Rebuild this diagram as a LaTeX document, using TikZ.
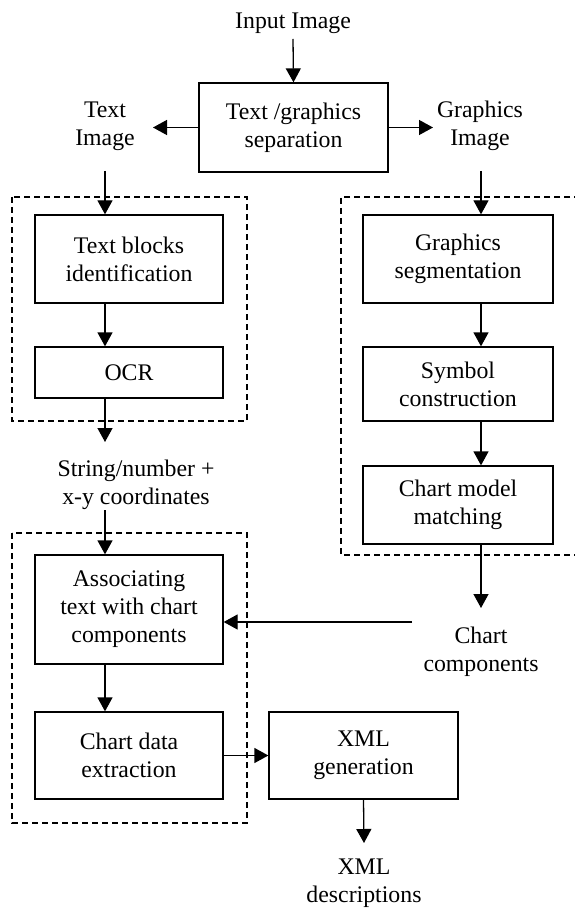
\documentclass[tikz,border=0pt]{standalone}
\usepackage{fontspec}
\setmainfont{Liberation Serif}
\usetikzlibrary{arrows.meta}
\newcommand\dgfont{\fontsize{23.8}{28}\selectfont}
\begin{document}
\begin{tikzpicture}[x=1pt,y=-1pt,
  box/.style={draw,line width=1.3pt,align=center,inner sep=0pt,font=\dgfont},
  lbl/.style={align=center,inner sep=0pt,font=\dgfont},
  arr/.style={line width=1.3pt,-{Triangle[length=14pt,width=15pt]}},
  grp/.style={line width=1.3pt,dash pattern=on 6pt off 4pt}]
\useasboundingbox (0,0) rectangle (574,909);
\fill[white] (0,0) rectangle (574,909);

% groups
\draw[grp] (12,197) rectangle (247,421);
\draw[grp] (12,533) rectangle (247,823);
\draw[grp] (590,197) -- (341,197) -- (341,555) -- (590,555);

% nodes
\node[lbl] (inp) at (293,23) {Input Image};
\node[box,minimum width=189pt,minimum height=89pt] (sep) at (293.5,127.5) {Text /graphics\\separation};
\node[lbl] (timg) at (105,126) {Text\\Image};
\node[lbl] (gimg) at (480,126) {Graphics\\Image};
\node[box,minimum width=188pt,minimum height=88pt] (tb) at (129,259) {Text blocks\\identification};
\node[box,minimum width=188pt,minimum height=51pt] (ocr) at (129,372.5) {OCR};
\node[lbl] (str) at (136,485) {String/number +\\x-y coordinates};
\node[box,minimum width=188pt,minimum height=109pt] (asc) at (129,609.5) {Associating\\text with chart\\components};
\node[box,minimum width=188pt,minimum height=87pt] (cde) at (129,755.5) {Chart data\\extraction};
\node[box,minimum width=189pt,minimum height=87pt] (xml) at (363.5,755.5) {XML\\generation};
\node[lbl] (xmld) at (364,883.5) {XML\\descriptions};
\node[box,minimum width=190pt,minimum height=88pt] (gs) at (458,259) {Graphics\\segmentation};
\node[box,minimum width=190pt,minimum height=74pt] (sc) at (458,384) {Symbol\\construction};
\node[box,minimum width=190pt,minimum height=78pt] (cmm) at (458,505) {Chart model\\matching};
\node[lbl] (cc) at (481,651.5) {Chart\\components};

% connector ends
\coordinate (inS) at (293,39);
\coordinate (tiE) at (153,127.5);
\coordinate (giE) at (433,127.5);
\coordinate (tiS) at (105,171);
\coordinate (giS) at (481,171);
\coordinate (ocrT) at (105,442);
\coordinate (strS) at (105,510);
\coordinate (cmT) at (481,608);
\coordinate (ccW) at (412,622);
\coordinate (xmlT) at (364,843);

% connectors
\draw[arr] (inS) -- (sep.north);
\draw[arr] (sep.west) -- (tiE);
\draw[arr] (sep.east) -- (giE);
\draw[arr] (tiS) -- (tiS |- tb.north);
\draw[arr] (giS) -- (giS |- gs.north);
\draw[arr] (tiS |- tb.south) -- (tiS |- ocr.north);
\draw[arr] (tiS |- ocr.south) -- (ocrT);
\draw[arr] (strS) -- (strS |- asc.north);
\draw[arr] (tiS |- asc.south) -- (tiS |- cde.north);
\draw[arr] (giS |- gs.south) -- (giS |- sc.north);
\draw[arr] (giS |- sc.south) -- (giS |- cmm.north);
\draw[arr] (giS |- cmm.south) -- (cmT);
\draw[arr] (ccW) -- (ccW -| asc.east);
\draw[arr] (cde.east) -- (cde.east -| xml.west);
\draw[arr] (xml.south) -- (xmlT);
\end{tikzpicture}
\end{document}
